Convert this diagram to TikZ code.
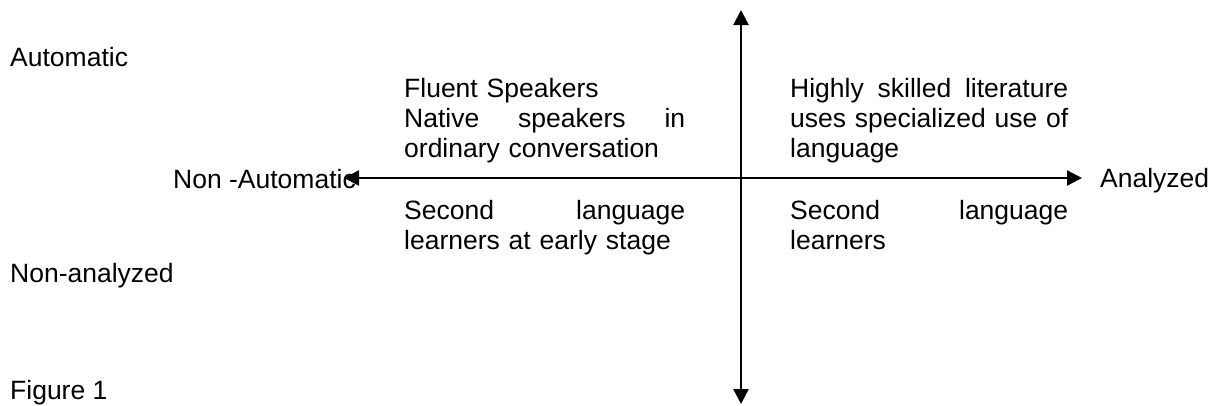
\documentclass[tikz,border=0pt]{standalone}
\usepackage{fontspec}
\setmainfont{Liberation Sans}
\usetikzlibrary{arrows.meta}
\newcommand{\jline}[2]{\leavevmode\hbox to #1{#2}}
\begin{document}
\begin{tikzpicture}[x=1pt,y=-1pt,
  lbl/.style={inner sep=0pt, anchor=base west, font=\fontsize{26.5}{30}\selectfont},
  quad/.style={lbl, text width=282pt, align=left},
  axis/.style={line width=2.4pt, {Triangle[length=15pt,width=15pt]}-{Triangle[length=15pt,width=15pt]}}]
\useasboundingbox (0,0) rectangle (1210,405);
% side labels
\node[lbl] (auto) at (10,66) {Automatic};
\node[lbl] (nonauto) at (173,188) {Non -Automatic};
\node[lbl] (anal) at (1100,187) {Analyzed};
\node[lbl] (nonanal) at (10,282) {Non-analyzed};
\node[lbl] (fig) at (10,399) {Figure 1};
% quadrant texts
\node[quad] (ul) at (404,97) {Fluent Speakers\\
  \jline{281pt}{Native\hfil speakers\hfil in}\\
  ordinary conversation};
\node[quad] (ur) at (790,97) {\jline{278pt}{Highly\hfil skilled\hfil literature}\\
  \jline{278pt}{uses\hfil specialized\hfil use\hfil of}\\
  language};
\node[quad] (ll) at (404,219) {\jline{281pt}{Second\hfil language}\\
  learners at early stage};
\node[quad] (lr) at (790,219) {\jline{278pt}{Second\hfil language}\\
  learners};
% axes
\coordinate (W) at (344,178);
\coordinate (E) at (1082,178);
\coordinate (N) at (741,10);
\coordinate (S) at (741,404);
\draw[axis] (W) -- (E);
\draw[axis] (N) -- (S);
\end{tikzpicture}
\end{document}
